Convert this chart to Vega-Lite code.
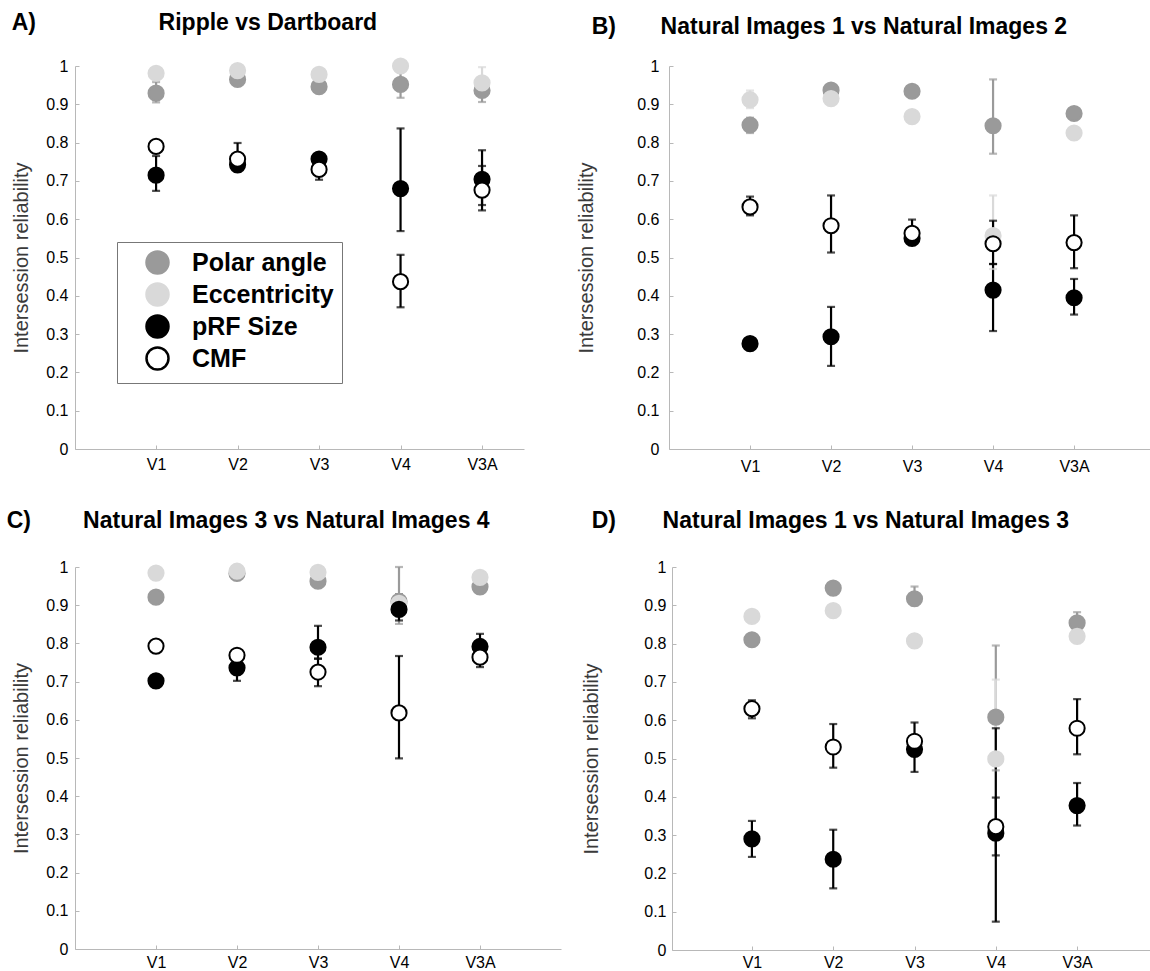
{
  "$schema": "https://vega.github.io/schema/vega-lite/v6.json",
  "padding": {"left": 6, "top": 12, "right": 0, "bottom": 0},
  "background": "#ffffff",
  "config": {
    "view": {"stroke": null},
    "font": "Liberation Sans",
    "title": {"font": "Liberation Sans", "fontSize": 23, "fontWeight": "bold", "color": "#000000"},
    "axis": {
      "grid": false,
      "domainColor": "#b8b8b8",
      "domainWidth": 1,
      "tickColor": "#b8b8b8",
      "tickSize": -4,
      "labelFont": "Liberation Sans",
      "labelFontSize": 16,
      "labelColor": "#000000",
      "titleFont": "Liberation Sans",
      "titleFontSize": 20,
      "titleFontWeight": "normal",
      "titleColor": "#3a3a3a"
    },
    "axisY": {"values": [0, 0.1, 0.2, 0.3, 0.4, 0.5, 0.6, 0.7, 0.8, 0.9, 1], "format": ".1~f"}
  },
  "datasets": {
    "A": [
      {"region": "V1", "series": "Polar angle", "value": 0.929, "lo": 0.905, "hi": 0.958},
      {"region": "V1", "series": "Eccentricity", "value": 0.981, "lo": 0.975, "hi": 0.988},
      {"region": "V1", "series": "pRF Size", "value": 0.715, "lo": 0.674, "hi": 0.765},
      {"region": "V1", "series": "CMF", "value": 0.79, "lo": 0.785, "hi": 0.795},
      {"region": "V2", "series": "Polar angle", "value": 0.965, "lo": 0.955, "hi": 0.975},
      {"region": "V2", "series": "Eccentricity", "value": 0.988, "lo": 0.98, "hi": 0.995},
      {"region": "V2", "series": "pRF Size", "value": 0.742, "lo": 0.725, "hi": 0.752},
      {"region": "V2", "series": "CMF", "value": 0.757, "lo": 0.735, "hi": 0.799},
      {"region": "V3", "series": "Polar angle", "value": 0.946, "lo": 0.93, "hi": 0.96},
      {"region": "V3", "series": "Eccentricity", "value": 0.978, "lo": 0.97, "hi": 0.985},
      {"region": "V3", "series": "pRF Size", "value": 0.757, "lo": 0.745, "hi": 0.77},
      {"region": "V3", "series": "CMF", "value": 0.73, "lo": 0.703, "hi": 0.75},
      {"region": "V4", "series": "Polar angle", "value": 0.952, "lo": 0.917, "hi": 0.985},
      {"region": "V4", "series": "Eccentricity", "value": 1.0, "lo": 0.99, "hi": 1.0},
      {"region": "V4", "series": "pRF Size", "value": 0.68, "lo": 0.569, "hi": 0.837},
      {"region": "V4", "series": "CMF", "value": 0.437, "lo": 0.37, "hi": 0.507},
      {"region": "V3A", "series": "Polar angle", "value": 0.936, "lo": 0.906, "hi": 0.96},
      {"region": "V3A", "series": "Eccentricity", "value": 0.956, "lo": 0.92, "hi": 0.997},
      {"region": "V3A", "series": "pRF Size", "value": 0.704, "lo": 0.637, "hi": 0.739},
      {"region": "V3A", "series": "CMF", "value": 0.676, "lo": 0.623, "hi": 0.78}
    ],
    "B": [
      {"region": "V1", "series": "Polar angle", "value": 0.846, "lo": 0.825, "hi": 0.865},
      {"region": "V1", "series": "Eccentricity", "value": 0.912, "lo": 0.89, "hi": 0.936},
      {"region": "V1", "series": "pRF Size", "value": 0.275, "lo": 0.27, "hi": 0.28},
      {"region": "V1", "series": "CMF", "value": 0.632, "lo": 0.61, "hi": 0.659},
      {"region": "V2", "series": "Polar angle", "value": 0.937, "lo": 0.925, "hi": 0.945},
      {"region": "V2", "series": "Eccentricity", "value": 0.915, "lo": 0.905, "hi": 0.925},
      {"region": "V2", "series": "pRF Size", "value": 0.293, "lo": 0.217, "hi": 0.371},
      {"region": "V2", "series": "CMF", "value": 0.583, "lo": 0.513, "hi": 0.662},
      {"region": "V3", "series": "Polar angle", "value": 0.934, "lo": 0.925, "hi": 0.94},
      {"region": "V3", "series": "Eccentricity", "value": 0.868, "lo": 0.855, "hi": 0.882},
      {"region": "V3", "series": "pRF Size", "value": 0.55, "lo": 0.535, "hi": 0.56},
      {"region": "V3", "series": "CMF", "value": 0.563, "lo": 0.545, "hi": 0.599},
      {"region": "V4", "series": "Polar angle", "value": 0.844, "lo": 0.771, "hi": 0.965},
      {"region": "V4", "series": "Eccentricity", "value": 0.557, "lo": 0.47, "hi": 0.662},
      {"region": "V4", "series": "pRF Size", "value": 0.415, "lo": 0.308, "hi": 0.483},
      {"region": "V4", "series": "CMF", "value": 0.536, "lo": 0.483, "hi": 0.596},
      {"region": "V3A", "series": "Polar angle", "value": 0.876, "lo": 0.86, "hi": 0.89},
      {"region": "V3A", "series": "Eccentricity", "value": 0.825, "lo": 0.815, "hi": 0.835},
      {"region": "V3A", "series": "pRF Size", "value": 0.395, "lo": 0.351, "hi": 0.444},
      {"region": "V3A", "series": "CMF", "value": 0.539, "lo": 0.472, "hi": 0.61}
    ],
    "C": [
      {"region": "V1", "series": "Polar angle", "value": 0.921, "lo": 0.912, "hi": 0.93},
      {"region": "V1", "series": "Eccentricity", "value": 0.984, "lo": 0.977, "hi": 0.99},
      {"region": "V1", "series": "pRF Size", "value": 0.702, "lo": 0.694, "hi": 0.71},
      {"region": "V1", "series": "CMF", "value": 0.793, "lo": 0.786, "hi": 0.8},
      {"region": "V2", "series": "Polar angle", "value": 0.983, "lo": 0.976, "hi": 0.99},
      {"region": "V2", "series": "Eccentricity", "value": 0.989, "lo": 0.982, "hi": 0.995},
      {"region": "V2", "series": "pRF Size", "value": 0.736, "lo": 0.702, "hi": 0.76},
      {"region": "V2", "series": "CMF", "value": 0.769, "lo": 0.76, "hi": 0.78},
      {"region": "V3", "series": "Polar angle", "value": 0.963, "lo": 0.955, "hi": 0.972},
      {"region": "V3", "series": "Eccentricity", "value": 0.986, "lo": 0.979, "hi": 0.993},
      {"region": "V3", "series": "pRF Size", "value": 0.79, "lo": 0.76, "hi": 0.846},
      {"region": "V3", "series": "CMF", "value": 0.725, "lo": 0.688, "hi": 0.76},
      {"region": "V4", "series": "Polar angle", "value": 0.91, "lo": 0.851, "hi": 1.0},
      {"region": "V4", "series": "Eccentricity", "value": 0.905, "lo": 0.89, "hi": 0.92},
      {"region": "V4", "series": "pRF Size", "value": 0.889, "lo": 0.86, "hi": 0.928},
      {"region": "V4", "series": "CMF", "value": 0.618, "lo": 0.499, "hi": 0.767},
      {"region": "V3A", "series": "Polar angle", "value": 0.948, "lo": 0.94, "hi": 0.956},
      {"region": "V3A", "series": "Eccentricity", "value": 0.973, "lo": 0.966, "hi": 0.98},
      {"region": "V3A", "series": "pRF Size", "value": 0.792, "lo": 0.77, "hi": 0.825},
      {"region": "V3A", "series": "CMF", "value": 0.764, "lo": 0.738, "hi": 0.78}
    ],
    "D": [
      {"region": "V1", "series": "Polar angle", "value": 0.81, "lo": 0.8, "hi": 0.82},
      {"region": "V1", "series": "Eccentricity", "value": 0.871, "lo": 0.862, "hi": 0.88},
      {"region": "V1", "series": "pRF Size", "value": 0.29, "lo": 0.243, "hi": 0.337},
      {"region": "V1", "series": "CMF", "value": 0.63, "lo": 0.605, "hi": 0.652},
      {"region": "V2", "series": "Polar angle", "value": 0.945, "lo": 0.936, "hi": 0.954},
      {"region": "V2", "series": "Eccentricity", "value": 0.886, "lo": 0.877, "hi": 0.895},
      {"region": "V2", "series": "pRF Size", "value": 0.237, "lo": 0.161, "hi": 0.314},
      {"region": "V2", "series": "CMF", "value": 0.53, "lo": 0.476, "hi": 0.59},
      {"region": "V3", "series": "Polar angle", "value": 0.917, "lo": 0.9, "hi": 0.949},
      {"region": "V3", "series": "Eccentricity", "value": 0.807, "lo": 0.798, "hi": 0.816},
      {"region": "V3", "series": "pRF Size", "value": 0.524, "lo": 0.465, "hi": 0.56},
      {"region": "V3", "series": "CMF", "value": 0.545, "lo": 0.51, "hi": 0.594},
      {"region": "V4", "series": "Polar angle", "value": 0.608, "lo": 0.469, "hi": 0.795},
      {"region": "V4", "series": "Eccentricity", "value": 0.499, "lo": 0.3, "hi": 0.706},
      {"region": "V4", "series": "pRF Size", "value": 0.305, "lo": 0.074, "hi": 0.579},
      {"region": "V4", "series": "CMF", "value": 0.322, "lo": 0.247, "hi": 0.398},
      {"region": "V3A", "series": "Polar angle", "value": 0.854, "lo": 0.83, "hi": 0.882},
      {"region": "V3A", "series": "Eccentricity", "value": 0.819, "lo": 0.81, "hi": 0.83},
      {"region": "V3A", "series": "pRF Size", "value": 0.377, "lo": 0.325, "hi": 0.436},
      {"region": "V3A", "series": "CMF", "value": 0.579, "lo": 0.511, "hi": 0.655}
    ]
  },
  "resolve": {"scale": {"x": "independent", "y": "independent", "fill": "independent", "stroke": "independent", "color": "independent"}, "axis": {"x": "independent", "y": "independent"}, "legend": {"fill": "independent", "stroke": "independent", "color": "independent"}},
  "spacing": 36,
  "vconcat": [
    {
      "spacing": 52,
      "resolve": {"scale": {"x": "independent", "y": "independent", "fill": "independent", "stroke": "independent", "color": "independent"}, "axis": {"x": "independent", "y": "independent"}, "legend": {"fill": "independent", "stroke": "independent", "color": "independent"}},
      "hconcat": [
        {
          "title": {"text": "A)", "anchor": "start", "frame": "bounds", "offset": 0, "dy": 23},
          "resolve": {"scale": {"x": "independent", "y": "independent", "fill": "independent", "stroke": "independent", "color": "independent"}, "axis": {"x": "independent", "y": "independent"}, "legend": {"fill": "independent", "stroke": "independent", "color": "independent"}},
          "vconcat": [
            {
              "width": 449, "height": 383,
              "title": {"text": "Ripple vs Dartboard", "anchor": "middle", "frame": "bounds", "offset": 19},
              "data": {"name": "A"},
              "encoding": {
                "x": {"field": "region", "type": "nominal",
                  "scale": {"type": "point", "domain": ["V1", "V2", "V3", "V4", "V3A"], "padding": 0.755, "align": 0.659},
                  "axis": {"title": null, "labelPadding": 11, "labelAngle": 0}}
              },
              "layer": [
                {"mark": {"type": "rule", "strokeWidth": 2.2},
                 "encoding": {
                   "y": {"field": "lo", "type": "quantitative", "scale": {"domain": [0, 1], "nice": false},
                     "axis": {"title": "Intersession reliability", "labelPadding": 11, "titlePadding": 14}},
                   "y2": {"field": "hi"},
                   "color": {"field": "series", "type": "nominal", "scale": {"range": ["#000000", "#d9d9d9", "#9a9a9a", "#000000"]}, "legend": null}}},
                {"mark": {"type": "tick", "thickness": 2.2, "size": 8},
                 "encoding": {
                   "y": {"field": "lo", "type": "quantitative", "axis": {"title": "Intersession reliability", "labelPadding": 11, "titlePadding": 14}},
                   "color": {"field": "series", "type": "nominal", "legend": null}}},
                {"mark": {"type": "tick", "thickness": 2.2, "size": 8},
                 "encoding": {
                   "y": {"field": "hi", "type": "quantitative", "axis": {"title": "Intersession reliability", "labelPadding": 11, "titlePadding": 14}},
                   "color": {"field": "series", "type": "nominal", "legend": null}}},
                {"mark": {"type": "point", "shape": "circle", "filled": true, "size": 230, "strokeWidth": 2, "opacity": 1},
                 "encoding": {
                   "y": {"field": "value", "type": "quantitative", "axis": {"title": "Intersession reliability", "labelPadding": 11, "titlePadding": 14}},
                   "fill": {"field": "series", "type": "nominal",
                     "scale": {"domain": ["Polar angle", "Eccentricity", "pRF Size", "CMF"], "range": ["#9a9a9a", "#d9d9d9", "#000000", "#ffffff"]},
                     "legend": {"title": null, "orient": "none", "legendX": 42, "legendY": 176, "labelFontSize": 25, "labelFontWeight": "bold", "labelFont": "Liberation Sans", "labelColor": "#000000", "symbolSize": 484, "symbolStrokeWidth": 2.5, "rowPadding": -1, "padding": 8, "strokeColor": "#777777", "fillColor": "#ffffff", "symbolOffset": 20, "labelOffset": 22, "symbolType": "circle"}},
                   "stroke": {"field": "series", "type": "nominal",
                     "scale": {"domain": ["Polar angle", "Eccentricity", "pRF Size", "CMF"], "range": ["#9a9a9a", "#d9d9d9", "#000000", "#000000"]},
                     "legend": {"title": null, "orient": "none", "legendX": 42, "legendY": 176, "labelFontSize": 25, "labelFontWeight": "bold", "labelFont": "Liberation Sans", "labelColor": "#000000", "symbolSize": 484, "symbolStrokeWidth": 2.5, "rowPadding": -1, "padding": 8, "strokeColor": "#777777", "fillColor": "#ffffff", "symbolOffset": 20, "labelOffset": 22, "symbolType": "circle"}}}}
              ]
            }
          ]
        },
        {
          "title": {"text": "B)", "anchor": "start", "frame": "bounds", "offset": 0, "dy": 23, "dx": 15},
          "resolve": {"scale": {"x": "independent", "y": "independent", "fill": "independent", "stroke": "independent", "color": "independent"}, "axis": {"x": "independent", "y": "independent"}, "legend": {"fill": "independent", "stroke": "independent", "color": "independent"}},
          "vconcat": [
            {
              "width": 482, "height": 383,
              "title": {"text": "Natural Images 1 vs Natural Images 2", "anchor": "middle", "frame": "bounds", "offset": 19},
              "data": {"name": "B"},
              "encoding": {
                "x": {"field": "region", "type": "nominal",
                  "scale": {"type": "point", "domain": ["V1", "V2", "V3", "V4", "V3A"], "padding": 0.975, "align": 0.513},
                  "axis": {"title": null, "labelPadding": 13, "labelAngle": 0}}
              },
              "layer": [
                {"mark": {"type": "rule", "strokeWidth": 2.2},
                 "encoding": {
                   "y": {"field": "lo", "type": "quantitative", "scale": {"domain": [0, 1], "nice": false},
                     "axis": {"title": "Intersession reliability", "labelPadding": 14, "titlePadding": 40}},
                   "y2": {"field": "hi"},
                   "color": {"field": "series", "type": "nominal", "scale": {"range": ["#000000", "#d9d9d9", "#9a9a9a", "#000000"]}, "legend": null}}},
                {"mark": {"type": "tick", "thickness": 2.2, "size": 8},
                 "encoding": {
                   "y": {"field": "lo", "type": "quantitative", "axis": {"title": "Intersession reliability", "labelPadding": 14, "titlePadding": 40}},
                   "color": {"field": "series", "type": "nominal", "legend": null}}},
                {"mark": {"type": "tick", "thickness": 2.2, "size": 8},
                 "encoding": {
                   "y": {"field": "hi", "type": "quantitative", "axis": {"title": "Intersession reliability", "labelPadding": 14, "titlePadding": 40}},
                   "color": {"field": "series", "type": "nominal", "legend": null}}},
                {"mark": {"type": "point", "shape": "circle", "filled": true, "size": 230, "strokeWidth": 2, "opacity": 1},
                 "encoding": {
                   "y": {"field": "value", "type": "quantitative", "axis": {"title": "Intersession reliability", "labelPadding": 14, "titlePadding": 40}},
                   "fill": {"field": "series", "type": "nominal",
                     "scale": {"domain": ["Polar angle", "Eccentricity", "pRF Size", "CMF"], "range": ["#9a9a9a", "#d9d9d9", "#000000", "#ffffff"]}, "legend": null},
                   "stroke": {"field": "series", "type": "nominal",
                     "scale": {"domain": ["Polar angle", "Eccentricity", "pRF Size", "CMF"], "range": ["#9a9a9a", "#d9d9d9", "#000000", "#000000"]}, "legend": null}}}
              ]
            }
          ]
        }
      ]
    },
    {
      "spacing": 20,
      "resolve": {"scale": {"x": "independent", "y": "independent", "fill": "independent", "stroke": "independent", "color": "independent"}, "axis": {"x": "independent", "y": "independent"}, "legend": {"fill": "independent", "stroke": "independent", "color": "independent"}},
      "hconcat": [
        {
          "title": {"text": "C)", "anchor": "start", "frame": "bounds", "offset": 0, "dy": 23, "dx": -5},
          "resolve": {"scale": {"x": "independent", "y": "independent", "fill": "independent", "stroke": "independent", "color": "independent"}, "axis": {"x": "independent", "y": "independent"}, "legend": {"fill": "independent", "stroke": "independent", "color": "independent"}},
          "vconcat": [
            {
              "width": 486, "height": 382,
              "title": {"text": "Natural Images 3 vs Natural Images 4", "anchor": "middle", "frame": "bounds", "offset": 26},
              "data": {"name": "C"},
              "encoding": {
                "x": {"field": "region", "type": "nominal",
                  "scale": {"type": "point", "domain": ["V1", "V2", "V3", "V4", "V3A"], "padding": 1, "align": 0.5},
                  "axis": {"title": null, "labelPadding": 9, "labelAngle": 0}}
              },
              "layer": [
                {"mark": {"type": "rule", "strokeWidth": 2.2},
                 "encoding": {
                   "y": {"field": "lo", "type": "quantitative", "scale": {"domain": [0, 1], "nice": false},
                     "axis": {"title": "Intersession reliability", "labelPadding": 11, "titlePadding": 14}},
                   "y2": {"field": "hi"},
                   "color": {"field": "series", "type": "nominal", "scale": {"range": ["#000000", "#d9d9d9", "#9a9a9a", "#000000"]}, "legend": null}}},
                {"mark": {"type": "tick", "thickness": 2.2, "size": 8},
                 "encoding": {
                   "y": {"field": "lo", "type": "quantitative", "axis": {"title": "Intersession reliability", "labelPadding": 11, "titlePadding": 14}},
                   "color": {"field": "series", "type": "nominal", "legend": null}}},
                {"mark": {"type": "tick", "thickness": 2.2, "size": 8},
                 "encoding": {
                   "y": {"field": "hi", "type": "quantitative", "axis": {"title": "Intersession reliability", "labelPadding": 11, "titlePadding": 14}},
                   "color": {"field": "series", "type": "nominal", "legend": null}}},
                {"mark": {"type": "point", "shape": "circle", "filled": true, "size": 230, "strokeWidth": 2, "opacity": 1},
                 "encoding": {
                   "y": {"field": "value", "type": "quantitative", "axis": {"title": "Intersession reliability", "labelPadding": 11, "titlePadding": 14}},
                   "fill": {"field": "series", "type": "nominal",
                     "scale": {"domain": ["Polar angle", "Eccentricity", "pRF Size", "CMF"], "range": ["#9a9a9a", "#d9d9d9", "#000000", "#ffffff"]}, "legend": null},
                   "stroke": {"field": "series", "type": "nominal",
                     "scale": {"domain": ["Polar angle", "Eccentricity", "pRF Size", "CMF"], "range": ["#9a9a9a", "#d9d9d9", "#000000", "#000000"]}, "legend": null}}}
              ]
            }
          ]
        },
        {
          "title": {"text": "D)", "anchor": "start", "frame": "bounds", "offset": 0, "dy": 23, "dx": 10},
          "resolve": {"scale": {"x": "independent", "y": "independent", "fill": "independent", "stroke": "independent", "color": "independent"}, "axis": {"x": "independent", "y": "independent"}, "legend": {"fill": "independent", "stroke": "independent", "color": "independent"}},
          "vconcat": [
            {
              "width": 478, "height": 383,
              "title": {"text": "Natural Images 1 vs Natural Images 3", "anchor": "middle", "frame": "bounds", "offset": 26},
              "data": {"name": "D"},
              "encoding": {
                "x": {"field": "region", "type": "nominal",
                  "scale": {"type": "point", "domain": ["V1", "V2", "V3", "V4", "V3A"], "padding": 0.94, "align": 0.523},
                  "axis": {"title": null, "labelPadding": 8, "labelAngle": 0}}
              },
              "layer": [
                {"mark": {"type": "rule", "strokeWidth": 2.2},
                 "encoding": {
                   "y": {"field": "lo", "type": "quantitative", "scale": {"domain": [0, 1], "nice": false},
                     "axis": {"title": "Intersession reliability", "labelPadding": 10, "titlePadding": 42}},
                   "y2": {"field": "hi"},
                   "color": {"field": "series", "type": "nominal", "scale": {"range": ["#000000", "#d9d9d9", "#9a9a9a", "#000000"]}, "legend": null}}},
                {"mark": {"type": "tick", "thickness": 2.2, "size": 8},
                 "encoding": {
                   "y": {"field": "lo", "type": "quantitative", "axis": {"title": "Intersession reliability", "labelPadding": 10, "titlePadding": 42}},
                   "color": {"field": "series", "type": "nominal", "legend": null}}},
                {"mark": {"type": "tick", "thickness": 2.2, "size": 8},
                 "encoding": {
                   "y": {"field": "hi", "type": "quantitative", "axis": {"title": "Intersession reliability", "labelPadding": 10, "titlePadding": 42}},
                   "color": {"field": "series", "type": "nominal", "legend": null}}},
                {"mark": {"type": "point", "shape": "circle", "filled": true, "size": 230, "strokeWidth": 2, "opacity": 1},
                 "encoding": {
                   "y": {"field": "value", "type": "quantitative", "axis": {"title": "Intersession reliability", "labelPadding": 10, "titlePadding": 42}},
                   "fill": {"field": "series", "type": "nominal",
                     "scale": {"domain": ["Polar angle", "Eccentricity", "pRF Size", "CMF"], "range": ["#9a9a9a", "#d9d9d9", "#000000", "#ffffff"]}, "legend": null},
                   "stroke": {"field": "series", "type": "nominal",
                     "scale": {"domain": ["Polar angle", "Eccentricity", "pRF Size", "CMF"], "range": ["#9a9a9a", "#d9d9d9", "#000000", "#000000"]}, "legend": null}}}
              ]
            }
          ]
        }
      ]
    }
  ]
}
